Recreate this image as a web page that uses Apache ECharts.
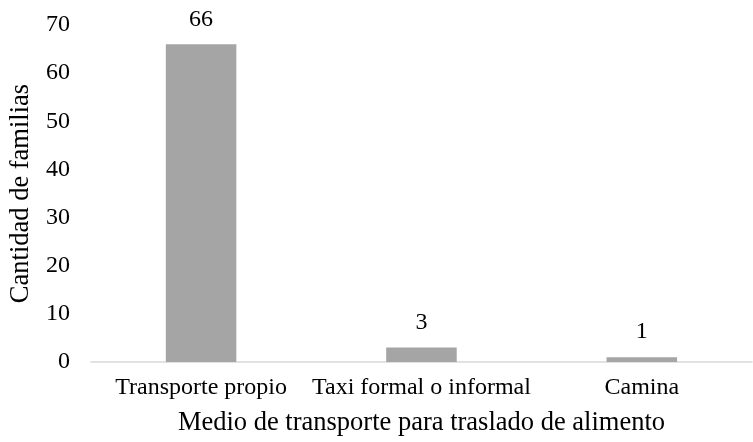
<!DOCTYPE html>
<html>
<head>
<meta charset="utf-8">
<script src="https://cdn.jsdelivr.net/npm/echarts@6/dist/echarts.min.js"></script>
<style>
  html, body { margin: 0; padding: 0; background: #fff; }
  #chart { width: 753px; height: 442px; }
</style>
</head>
<body>
<div id="chart"></div>
<script>
const categories = ['Transporte propio', 'Taxi formal o informal', 'Camina'];
const familias = [66, 3, 1];

const font = '"Liberation Serif", "Times New Roman", serif';

const chart = echarts.init(document.getElementById('chart'));
chart.setOption({
  animation: false,
  textStyle: { fontFamily: font },
  grid: { left: 88, right: 1, top: 25, bottom: 80 },
  xAxis: {
    type: 'category',
    data: categories,
    name: 'Medio de transporte para traslado de alimento',
    nameLocation: 'middle',
    nameGap: 48,
    nameTextStyle: { color: '#000', fontSize: 26.5, fontFamily: font },
    axisTick: { show: false },
    axisLine: { lineStyle: { color: '#d9d9d9', width: 1.5 } },
    axisLabel: { color: '#000', fontSize: 24, fontFamily: font, margin: 14, interval: 0 }
  },
  yAxis: {
    type: 'value',
    min: 0,
    max: 70,
    interval: 10,
    name: 'Cantidad de familias',
    nameLocation: 'middle',
    nameGap: 54,
    nameTextStyle: { color: '#000', fontSize: 26.5, fontFamily: font },
    splitLine: { show: false },
    axisLine: { show: false },
    axisTick: { show: false },
    axisLabel: { color: '#000', fontSize: 24, fontFamily: font, margin: 21 }
  },
  series: [{
    type: 'bar',
    data: familias,
    barWidth: '32%',
    itemStyle: { color: '#a5a5a5' },
    label: {
      show: true,
      position: 'top',
      distance: 13,
      color: '#000',
      fontSize: 24,
      fontFamily: font
    }
  }]
});
</script>
</body>
</html>
